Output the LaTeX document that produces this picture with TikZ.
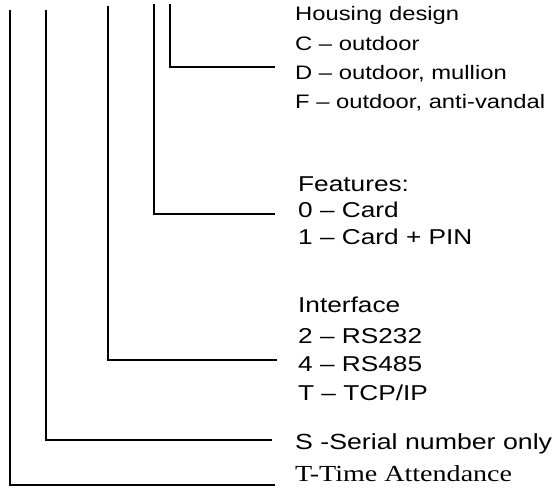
\documentclass[tikz,border=0pt]{standalone}
\usepackage{fontspec}
\usepackage{graphicx}
\newfontfamily\arialS{Liberation Sans}
\newfontfamily\timesS{Liberation Serif}
\newcommand\sx[1]{\scalebox{1.22}[1]{#1}}
\begin{document}
\begin{tikzpicture}[x=1pt,y=-1pt,
  conn/.style={line width=1.7pt,black},
  lbl/.style={anchor=base west,inner sep=0pt,text=black},
  sA/.style={lbl,font=\arialS\fontsize{19.5}{24}\selectfont},
  sB/.style={lbl,font=\arialS\fontsize{21.5}{25}\selectfont},
  sC/.style={lbl,font=\arialS\fontsize{21.9}{26}\selectfont},
  sD/.style={lbl,font=\timesS\fontsize{23}{27}\selectfont}]
\useasboundingbox (0,0) rectangle (554,499);
% tops and ends
\coordinate (ta) at (10,10);   \coordinate (ea) at (275,485);
\coordinate (tb) at (46,10);   \coordinate (eb) at (272,440);
\coordinate (tc) at (107.7,6); \coordinate (ec) at (277,360);
\coordinate (td) at (154,4);   \coordinate (ed) at (275,214);
\coordinate (te) at (170,4);   \coordinate (ee) at (275,67);
\draw[conn] (ta) |- (ea);
\draw[conn] (tb) |- (eb);
\draw[conn] (tc) |- (ec);
\draw[conn] (td) |- (ed);
\draw[conn] (te) |- (ee);
% housing
\node[sA] (h0) at (295,20.7) {\sx{Housing design}};
\node[sA] (h1) at (295,50) {\sx{C – outdoor}};
\node[sA] (h2) at (295,79.3) {\sx{D – outdoor, mullion}};
\node[sA] (h3) at (295,108.5) {\sx{F – outdoor, anti-vandal}};
% features
\node[sB] (f0) at (298,191) {\sx{Features:}};
\node[sB] (f1) at (298,217) {\sx{0 – Card}};
\node[sB] (f2) at (298,244) {\sx{1 – Card + PIN}};
% interface
\node[sB] (i0) at (298,312.7) {\sx{Interface}};
\node[sB] (i1) at (298,343) {\sx{2 – RS232}};
\node[sB] (i2) at (298,371.7) {\sx{4 – RS485}};
\node[sB] (i3) at (298,400) {\sx{T – TCP/IP}};
% serial
\node[sC] (s0) at (295,449) {\sx{S -Serial number only}};
% time attendance
\node[sD] (t0) at (295,481.7) {\sx{T-Time Attendance}};
\end{tikzpicture}
\end{document}
